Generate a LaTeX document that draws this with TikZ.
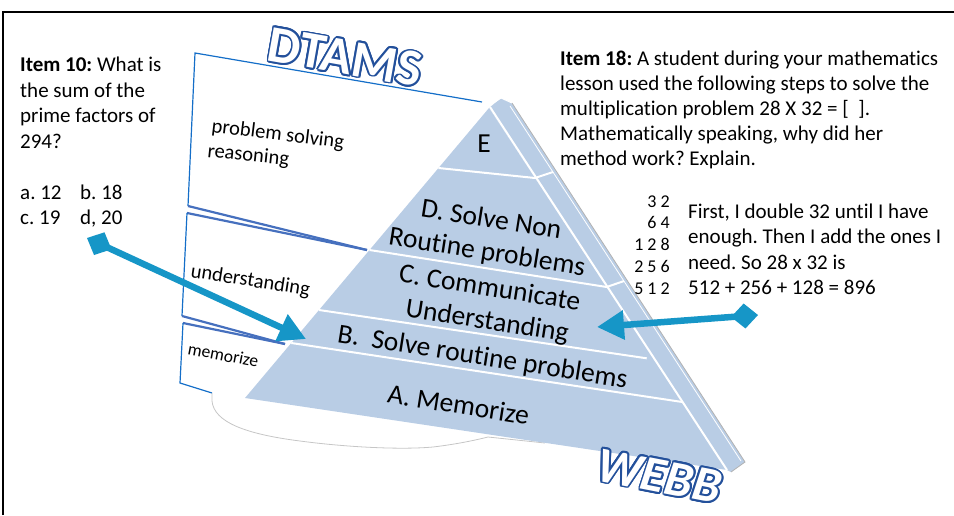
\documentclass[tikz,border=0pt]{standalone}
\usepackage{fontspec}
\setmainfont{Carlito}[Ligatures={NoCommon}]
\usepackage{contour}
\usetikzlibrary{arrows.meta}
\definecolor{pyr}{RGB}{185,205,229}
\definecolor{boxblue}{RGB}{20,110,200}
\definecolor{edgeblue}{RGB}{70,112,190}
\definecolor{arrcol}{RGB}{22,150,199}
\definecolor{wablue}{RGB}{35,80,155}
\contourlength{1.8pt}
\frenchspacing
\begin{document}
\begin{tikzpicture}[x=1pt,y=-1pt,
  txt/.style={inner sep=0pt, font=\fontsize{21}{25.5}\selectfont},
  lbl/.style={inner sep=0pt, font=\fontsize{27.5}{30}\selectfont, rotate=-9},
  boxtxt/.style={inner sep=0pt, font=\fontsize{20.5}{24}\selectfont},
  thinblue/.style={boxblue, line width=1.2pt},
  dbl/.style={edgeblue, line width=2.2pt},
  whiteline/.style={white, line width=2pt},
  connarrow/.style={arrcol, line width=6.5pt, {Diamond[length=27pt,width=25pt]}-{Triangle[length=27pt,width=28pt]}},
  wordart/.style={inner sep=0pt, text=white}
  ]
\useasboundingbox (0,0) rectangle (954,515);
% frame
\draw[line width=1.3pt] (3,515) -- (3,12) -- (954,12);
% side boxes
\draw[thinblue] (188,206) -- (195,53) -- (482,102);
\draw[dbl] (188,206) -- (367,250);
\draw[dbl] (187,213) -- (367,250);
\draw[thinblue] (187,213) -- (182,316);
\draw[dbl] (182,316) -- (285,344);
\draw[dbl] (183,323) -- (285,344);
\draw[thinblue] (183,323) -- (180,383) -- (212,393);
% shadow blob
\draw[gray!45, line width=0.8pt] (212,393) -- (212,401) .. controls (214,422) and (245,434) .. (300,441) .. controls (345,447) and (400,450) .. (433,447) .. controls (458,444) and (476,440) .. (488,437) -- (545,443);
% side face
\fill[pyr] (489,108) -- (501,98) -- (512,103) -- (745,462) -- (731,472) -- (727,470) -- cycle;
\draw[gray!60, line width=0.8pt] (512,103) -- (745,462) -- (731,472);
\draw[white, line width=1pt] (489,106) -- (501,98) -- (512,103);
\draw[white, line width=0.8pt] (510,106) -- (741,461);
% front face
\fill[pyr] (489,108) -- (245,398) -- (727,470) -- cycle;
\draw[whiteline] (490,107) -- (727,470);
\draw[whiteline] (438.5,168) -- (535,178) -- (553,172);
\draw[whiteline] (369.5,250) -- (606.7,287) -- (624,281);
\draw[whiteline] (319,310) -- (646.7,358.3);
\draw[whiteline] (291.3,343) -- (682.3,402);
% level labels
\node[lbl, rotate=9] (le) at (484,144) {E};
\node[lbl] (ld1) at (491.5,218.5) {D. Solve Non};
\node[lbl] (ld2) at (487,253) {Routine problems};
\node[lbl] (lc1) at (490,287) {C. Communicate};
\node[lbl] (lc2) at (487,322) {Understanding};
\node[lbl] (lb) at (482.5,358) {B.\ \ Solve routine problems};
\node[lbl] (la) at (458.5,404.5) {A. Memorize};
% box labels
\node[boxtxt, anchor=base west, rotate=-7] (ps) at (211,132) {problem solving};
\node[boxtxt, anchor=base west, rotate=-6] (rs) at (207,157) {reasoning};
\node[boxtxt, anchor=base west, rotate=-9] (und) at (190,277) {understanding};
\node[inner sep=0pt, font=\fontsize{17.5}{20}\selectfont, anchor=base west, rotate=-11] (mem) at (187,354) {memorize};
% arrows
\coordinate (l1) at (87,238);
\coordinate (l2) at (306,339);
\draw[connarrow] (l1) -- (l2);
\coordinate (r1) at (758,315);
\coordinate (r2) at (597,327);
\draw[connarrow] (r1) -- (r2);
% text blocks (base anchor = baseline of last line)
\node[txt, anchor=base west, align=left] (item10) at (20,224.5) {\textbf{Item 10:} What is\\the sum of the\\prime factors of\\294?\\[25.5pt]\makebox[60pt][l]{a. 12}b. 18\\\makebox[60pt][l]{c. 19}d, 20};
\node[txt, anchor=base west, align=left, font=\fontsize{21}{25}\selectfont] (item18) at (560,165) {\textbf{Item 18:} A student during your mathematics\\lesson used the following steps to solve the\\multiplication problem 28 X 32 = [\ \ ].\\Mathematically speaking, why did her\\method work? Explain.};
\node[inner sep=0pt, anchor=base east, align=right, font=\fontsize{18}{21.8}\selectfont] (nums) at (670,294.2) {3 2\\6 4\\1 2 8\\2 5 6\\5 1 2};
\node[txt, anchor=base west, align=left] (expl) at (688,294.5) {First, I double 32 until I have\\enough. Then I add the ones I\\need. So 28 x 32 is\\512 + 256 + 128 = 896};
% word art
\node[wordart, font=\fontsize{52}{54}\selectfont\bfseries, rotate=-10] (dtams) at (345,58) {\contour{wablue}{DTAMS}};
\node[wordart, font=\fontsize{50}{52}\selectfont\bfseries\itshape, rotate=-11] (webb) at (659,477) {\contour{wablue}{WEBB}};
\end{tikzpicture}
\end{document}
